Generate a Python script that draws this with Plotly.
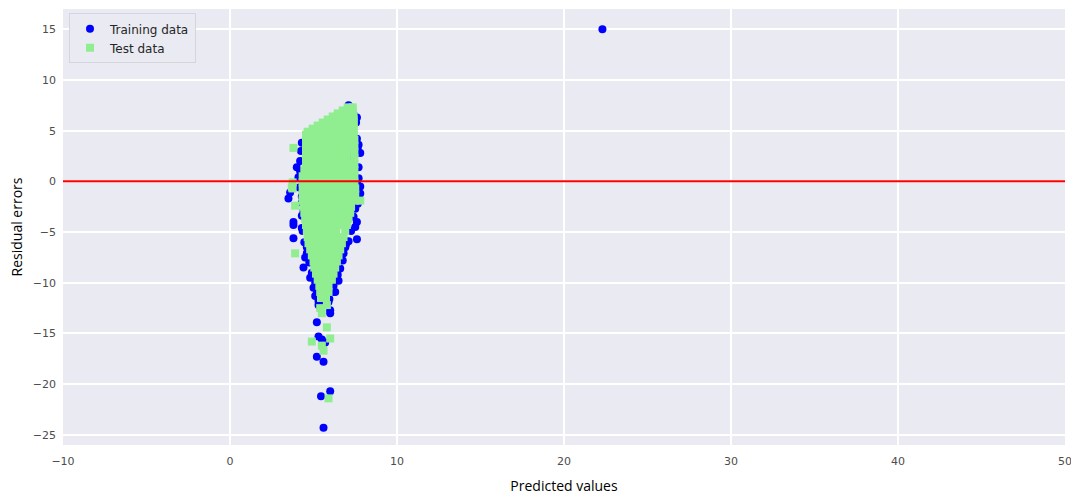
import plotly.graph_objects as go

# Training residuals: (predicted value, residual)
train_pred = [22.3,
              7.1, 7.4, 7.6, 7.2, 7.6, 7.7, 7.8, 7.3, 7.7, 7.6, 7.8, 7.8, 7.5, 7.6, 7.5,
              7.6, 7.1, 6.8, 6.9, 6.5, 6.3, 6.6,
              7.55, 7.65, 7.7, 7.65, 7.4, 7.25, 6.95, 6.75, 6.45, 6.2, 5.95,
              4.3, 4.0, 4.1, 4.2, 3.6, 3.5, 4.3, 4.4, 4.3, 3.8, 3.8, 4.3, 3.8, 4.5, 4.4,
              4.6, 4.8, 5.0, 5.1,
              4.25, 4.2, 4.15, 4.3, 4.35, 4.45, 4.6, 4.75, 4.9, 5.1, 5.2, 5.3,
              6.2, 5.3, 6.0, 6.0, 5.2, 5.3, 5.7, 5.5, 5.2, 5.6, 5.45, 6.0, 5.6, 5.6, 5.9]
train_resid = [15.0,
               7.5, 6.6, 6.3, 5.2, 4.2, 3.6, 2.8, 2.4, 1.4, -0.1, -0.5, -1.2, -2.7, -4.0, -4.5,
               -5.7, -5.9, -7.1, -6.5, -9.8, -10.9, -8.6,
               5.8, 3.2, 0.3, -2.2, -3.5, -4.9, -6.2, -7.8, -9.2, -10.3, -11.6,
               3.8, 1.4, 0.4, 2.0, -1.1, -1.7, -2.1, -2.9, -3.4, -4.0, -4.3, -4.6, -5.6, -7.5, -8.5,
               -6.5, -9.5, -10.5, -11.3,
               3.0, 1.0, -0.6, -1.5, -4.9, -6.0, -7.1, -8.0, -9.0, -10.0, -11.0, -11.8,
               -10.9, -12.2, -12.7, -13.0, -13.9, -15.3, -15.9, -15.6, -17.3, -17.8, -21.2, -20.7,
               -24.3, -12.1, -11.9]

# Test residuals, one row of predicted values per residual level
test_rows = [
    (7.3, [7.05, 7.35]),
    (7.0, [6.75, 7.05, 7.35]),
    (6.7, [6.45, 6.8, 7.1, 7.35]),
    (6.4, [6.15, 6.5, 6.85, 7.2, 7.4]),
    (6.1, [5.85, 6.2, 6.55, 6.9, 7.2, 7.4]),
    (5.8, [5.55, 5.9, 6.25, 6.6, 6.95, 7.3, 7.4]),
    (5.5, [5.25, 5.6, 5.95, 6.3, 6.65, 7.0, 7.4]),
    (5.2, [4.95, 5.3, 5.65, 6.0, 6.35, 6.7, 7.05, 7.4]),
    (4.9, [4.65, 5.0, 5.35, 5.7, 6.05, 6.4, 6.75, 7.1, 7.4]),
    (4.6, [4.55, 4.9, 5.25, 5.6, 5.95, 6.3, 6.65, 7.0, 7.4]),
    (4.1, [4.55, 4.9, 5.25, 5.6, 5.95, 6.3, 6.65, 7.0, 7.45]),
    (3.5, [4.55, 4.9, 5.25, 5.6, 5.95, 6.3, 6.65, 7.0, 7.45]),
    (2.9, [4.55, 4.9, 5.25, 5.6, 5.95, 6.3, 6.65, 7.0, 7.45]),
    (2.3, [4.55, 4.9, 5.25, 5.6, 5.95, 6.3, 6.65, 7.0, 7.45]),
    (1.7, [4.55, 4.9, 5.25, 5.6, 5.95, 6.3, 6.65, 7.0, 7.45]),
    (1.1, [4.45, 4.8, 5.2, 5.6, 6.0, 6.4, 6.8, 7.1, 7.45]),
    (0.5, [4.35, 4.7, 5.1, 5.5, 5.9, 6.3, 6.7, 7.1, 7.45]),
    (-0.1, [3.75, 4.35, 4.7, 5.1, 5.5, 5.9, 6.3, 6.7, 7.1, 7.45]),
    (-0.7, [3.75, 4.35, 4.7, 5.1, 5.5, 5.9, 6.3, 6.7, 7.1, 7.5]),
    (-1.3, [4.35, 4.7, 5.1, 5.5, 5.9, 6.3, 6.7, 7.1, 7.5]),
    (-1.9, [4.35, 4.7, 5.1, 5.5, 5.9, 6.3, 6.7, 7.1, 7.5]),
    (-2.5, [4.4, 4.8, 5.2, 5.6, 6.0, 6.4, 6.8, 7.25]),
    (-3.1, [4.45, 4.8, 5.2, 5.6, 6.0, 6.4, 6.8, 7.2]),
    (-3.7, [4.5, 4.85, 5.2, 5.6, 6.0, 6.4, 6.8, 7.1]),
    (-4.3, [4.55, 4.9, 5.25, 5.6, 5.95, 6.3, 6.65, 7.0]),
    (-4.9, [4.6, 4.95, 5.3, 5.65, 6.0, 6.35, 6.9]),
    (-5.5, [4.65, 5.0, 5.35, 5.7, 6.05, 6.4, 6.8]),
    (-6.1, [4.7, 5.05, 5.4, 5.75, 6.1, 6.45, 6.7]),
    (-6.7, [4.8, 5.15, 5.5, 5.85, 6.2, 6.6]),
    (-7.3, [4.9, 5.25, 5.6, 5.95, 6.3, 6.5]),
    (-7.9, [5.0, 5.35, 5.7, 6.05, 6.4]),
    (-8.5, [5.05, 5.4, 5.75, 6.05, 6.3]),
    (-9.1, [5.15, 5.5, 5.8, 6.2]),
    (-9.7, [5.25, 5.6, 5.9, 6.1]),
    (-10.3, [5.35, 5.65, 5.9]),
    (-10.9, [5.4, 5.7, 5.9]),
    (-11.5, [5.45, 5.75]),
]

# Isolated test residuals outside the main cluster
test_extra_pred = [3.8, 3.7, 3.9, 3.9, 7.8, 5.5, 5.8, 4.9, 6.0, 5.6, 5.5, 5.9, 5.4, 5.8]
test_extra_resid = [3.3, -0.6, -2.4, -7.1, -1.9, -13.0, -14.4, -15.8, -15.5, -16.7, -16.2,
                    -21.4, -12.5, -12.2]

x_ticks = [-10, 0, 10, 20, 30, 40, 50]
y_ticks = [-25, -20, -15, -10, -5, 0, 5, 10, 15]

test_pred = []
test_resid = []
for resid, preds in test_rows:
    test_pred.extend(preds)
    test_resid.extend([resid] * len(preds))
test_pred += test_extra_pred
test_resid += test_extra_resid


def minus(v):
    return str(v).replace("-", "\u2212")


fig = go.Figure()
fig.add_trace(go.Scatter(
    x=train_pred, y=train_resid, mode="markers", name="Training data",
    marker=dict(symbol="circle", size=8, color="#0000ff", line=dict(width=0)),
))
fig.add_trace(go.Scatter(
    x=test_pred, y=test_resid, mode="markers", name="Test data",
    marker=dict(symbol="square", size=8, color="#90ee90", line=dict(width=0)),
))
fig.add_hline(y=0, line=dict(color="#ff0000", width=2))

tick_font = dict(family="DejaVu Sans", size=11, color="#4d4d4d")
fig.update_layout(
    width=1071, height=498,
    margin=dict(l=63, r=6, t=9, b=53),
    paper_bgcolor="#ffffff",
    plot_bgcolor="#eaeaf2",
    showlegend=True,
    legend=dict(
        x=0.006, y=0.99, xanchor="left", yanchor="top",
        bgcolor="#eaeaf2", bordercolor="#d5d5de", borderwidth=1,
        font=dict(family="DejaVu Sans", size=12, color="#262626"),
        tracegroupgap=0,
    ),
    xaxis=dict(
        range=[-10, 50], tickvals=x_ticks, ticktext=[minus(v) for v in x_ticks],
        showgrid=True, gridcolor="#ffffff", gridwidth=1.5, zeroline=False,
        showline=False, ticks="", tickfont=tick_font, automargin=False,
        ticklabeloverflow="allow", ticklabelstandoff=8,
        title=dict(text="Predicted values", standoff=14,
                   font=dict(family="Open Sans", size=14, color="#000000")),
    ),
    yaxis=dict(
        range=[-26, 17], tickvals=y_ticks, ticktext=[minus(v) for v in y_ticks],
        showgrid=True, gridcolor="#ffffff", gridwidth=1.5, zeroline=False,
        showline=False, ticks="", tickfont=tick_font, automargin=False,
        ticklabelstandoff=6,
        title=dict(text="Residual errors", standoff=6,
                   font=dict(family="Open Sans", size=14, color="#000000")),
    ),
)

fig.write_html("out.html")
